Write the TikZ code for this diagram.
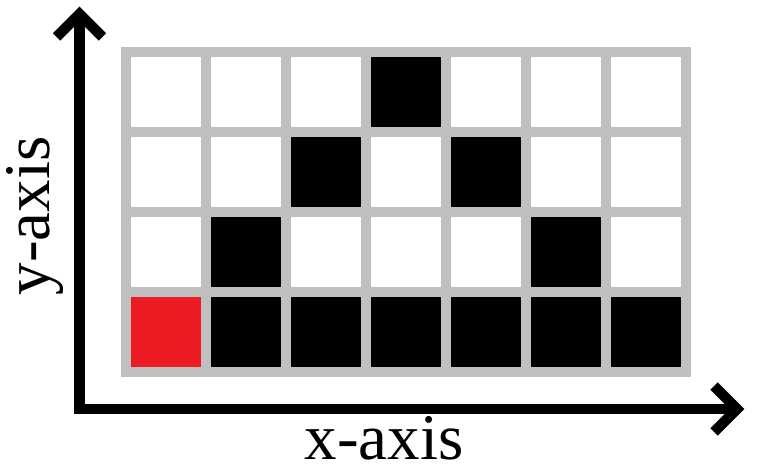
\documentclass[tikz,border=0pt]{standalone}
\usepackage{fontspec}
\setmainfont{Liberation Serif}
\definecolor{gridgray}{RGB}{192,192,192}
\definecolor{cellred}{RGB}{237,28,36}
\begin{document}
\begin{tikzpicture}[x=1pt,y=1pt,
  cell/.style={draw=none,minimum size=70pt,inner sep=0pt,outer sep=0pt,fill=white},
  on/.style={cell,fill=black},
  start/.style={cell,fill=cellred},
  axisline/.style={line width=10.5pt,line join=miter,line cap=butt},
  axislabel/.style={font=\fontsize{65}{65}\selectfont,inner sep=0pt,anchor=base}]
\useasboundingbox (0,0) rectangle (758,471);
\fill[white] (0,0) rectangle (758,471);
% grid background
\node[fill=gridgray,inner sep=0pt,minimum width=570pt,minimum height=330pt] (board) at (406,259) {};
% cells
\foreach \i in {0,...,6}{
  \foreach \j in {0,...,3}{
    \node[cell] (c-\i-\j) at ({166+80*\i},{379-80*\j}) {};
  }
}
\foreach \i/\j in {3/0,2/1,4/1,1/2,5/2,1/3,2/3,3/3,4/3,5/3,6/3}{
  \node[on] at (c-\i-\j) {};
}
\node[start] at (c-0-3) {};
% axes
\coordinate (ytip) at (79.5,457);
\coordinate (origin) at (79.5,62);
\coordinate (xtip) at (737,62);
\coordinate (yl) at (56.5,434);
\coordinate (yr) at (102.5,434);
\coordinate (xu) at (714,85);
\coordinate (xd) at (714,39);
\draw[axisline] (ytip) -- (origin) -- (xtip);
\draw[axisline] (yl) -- (ytip) -- (yr);
\draw[axisline] (xu) -- (xtip) -- (xd);
% labels
\node[axislabel] (xlabel) at (384,11) {x-axis};
\node[axislabel,rotate=90] (ylabel) at (50,255) {y-axis};
\end{tikzpicture}
\end{document}
